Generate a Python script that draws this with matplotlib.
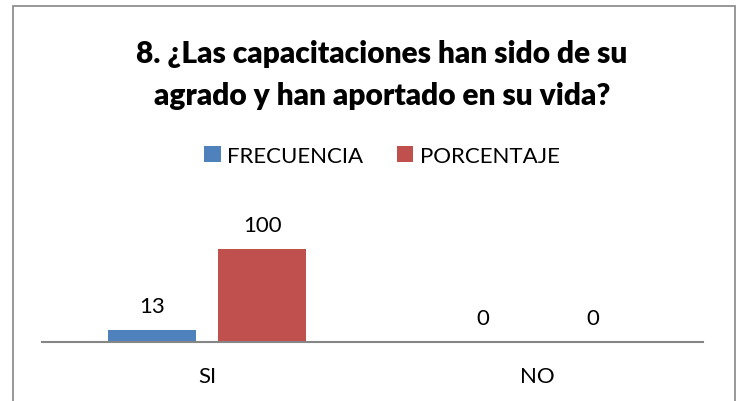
import matplotlib
matplotlib.use("Agg")
import matplotlib.pyplot as plt
from matplotlib.patches import Rectangle
import numpy as np

categories = ["SI", "NO"]
frecuencia = [13, 0]
porcentaje = [100, 0]
series_names = ["FRECUENCIA", "PORCENTAJE"]
colors = ["#4F81BD", "#C0504D"]
title = "8. ¿Las capacitaciones han sido de su\nagrado y han aportado en su vida?"

W, H = 737, 402
fig = plt.figure(figsize=(W / 100, H / 100), dpi=100)
plt.rcParams['font.family'] = ['Lato', 'DejaVu Sans']

# plot area in pixels
left_px, right_px, bottom_px = 42, 703, 343
ymax = 120
height_px = ymax * 0.93
ax = fig.add_axes([left_px / W, (H - bottom_px) / H, (right_px - left_px) / W, height_px / H])
ax.set_xlim(-0.5, 1.5)
ax.set_ylim(0, ymax)

x = np.arange(len(categories))
bw = 88 / 330.5
off = 55 / 330.5
for i, (vals, c, name) in enumerate(zip([frecuencia, porcentaje], colors, series_names)):
    pos = x + (-off if i == 0 else off)
    ax.bar(pos, vals, width=bw, color=c, label=name, zorder=2)
    for p, v in zip(pos, vals):
        ax.annotate(str(v), (p, v), xytext=(0, 10), textcoords="offset points",
                    ha="center", va="bottom", fontsize=16, color="black",
                    annotation_clip=False)

for s in ["left", "right", "top"]:
    ax.spines[s].set_visible(False)
ax.spines["bottom"].set_color("#868686")
ax.spines["bottom"].set_linewidth(1.5)
ax.set_yticks([])
ax.set_xticks(x)
ax.set_xticklabels(categories, fontsize=16)
ax.tick_params(axis="x", length=0, pad=17)

fig.text(382 / W, 1 - 75 / H, title, ha="center", va="center", fontsize=21.5,
         fontweight="heavy", linespacing=1.6)

leg = fig.legend(*ax.get_legend_handles_labels(), loc="center", bbox_to_anchor=(382 / W, 1 - 157 / H),
                 ncol=2, frameon=False, fontsize=16, handlelength=0.75, handleheight=0.75,
                 handletextpad=0.3, columnspacing=1.5)

fig.patches.append(Rectangle((13 / W, -0.05), (735 - 13) / W, 1 - 7 / H + 0.05,
                             transform=fig.transFigure, fill=False, edgecolor="#868686",
                             linewidth=1.2))

fig.savefig("out.png", dpi=100)
